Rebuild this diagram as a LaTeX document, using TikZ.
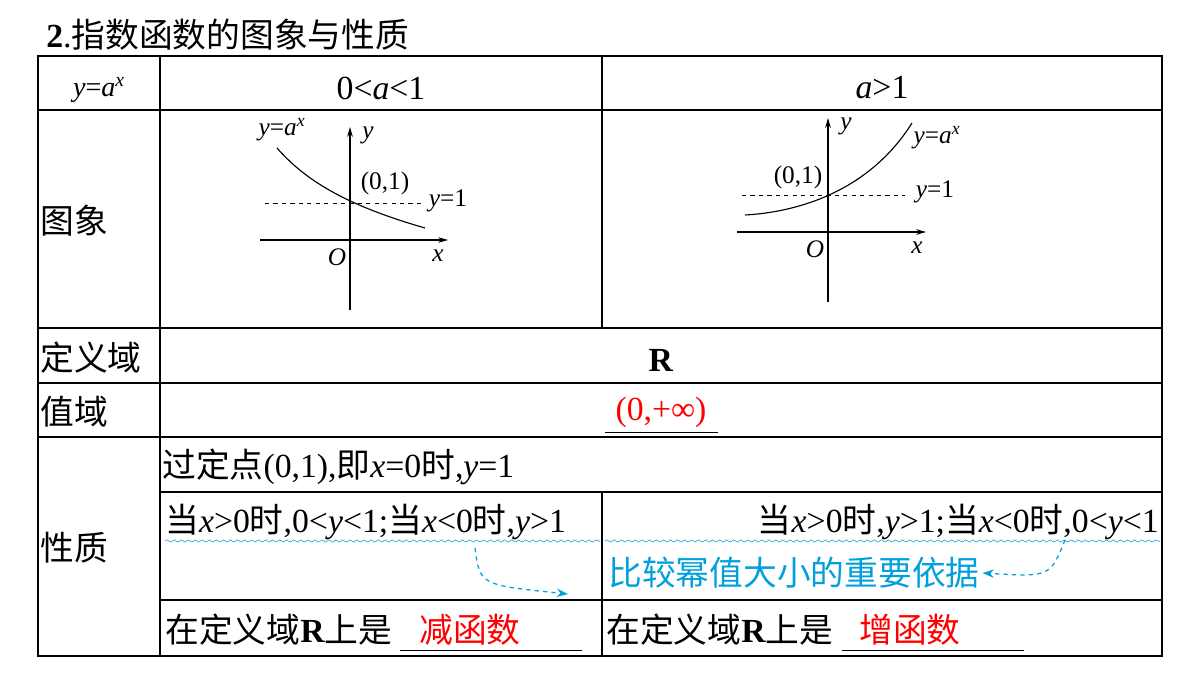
\documentclass[tikz,border=0pt]{standalone}
\usepackage{fontspec}
\setmainfont{Liberation Serif}
\newfontfamily\cjk{Noto Sans CJK SC}
\usetikzlibrary{arrows.meta,decorations.pathmorphing}
\definecolor{cy}{RGB}{0,160,220}
\begin{document}
\begin{tikzpicture}[x=0.025cm,y=-0.025cm,
  t/.style={font=\fontsize{24}{27}\selectfont,inner sep=0pt},
  s/.style={font=\fontsize{18}{20}\selectfont,inner sep=0pt},
  ax/.style={line width=0.8pt,-{Stealth[length=7pt,width=4pt]}},
  wav/.style={cy,decorate,decoration={snake,amplitude=0.8pt,segment length=5pt}},
  arr/.style={cy,dashed,line width=0.9pt,-{Stealth[length=8pt]}}]
\useasboundingbox (0,0) rectangle (1200,675);
\node[t,anchor=west,font=\fontsize{24}{27}\selectfont] (title) at (46,35) {\textbf{2}.\cjk 指数函数的图象与性质};
% table
\draw[line width=1.3pt] (38,56) rectangle (1162,656);
\draw[line width=0.8pt] (160,56)--(160,656) (602,56)--(602,328) (602,492)--(602,656)
 (38,110)--(1162,110) (38,328)--(1162,328) (38,383)--(1162,383) (38,437)--(1162,437)
 (160,492)--(1162,492) (160,600)--(1162,600);
\node[t,font=\fontsize{20}{22}\selectfont] (h0) at (99,90) {\textit{y}=\textit{a}\textsuperscript{\textit{x}}};
\node[t] (h1) at (381,88) {0<\textit{a}<1};
\node[t] (h2) at (882,88) {\textit{a}>1};
\node[t,anchor=west] (r1) at (40,221) {\cjk 图象};
\node[t,anchor=west] (r2) at (40,358) {\cjk 定义域};
\node[t,anchor=west] (r3) at (40,412) {\cjk 值域};
\node[t,anchor=west] (r4) at (40,548) {\cjk 性质};
\node[t] (R) at (661,360) {\textbf{R}};
\node[t,red] (rng) at (661,412) {(0,+∞)};
\draw (605,432)--(718,432);
\node[t,anchor=west] (p1) at (162,467) {\cjk 过定点\rmfamily(0,1),\cjk 即\rmfamily\textit{x}=0\cjk 时\rmfamily,\textit{y}=1};
\node[t,anchor=west] (p2) at (165,522) {\cjk 当\rmfamily\textit{x}>0\cjk 时\rmfamily,0<\textit{y}<1;\cjk 当\rmfamily\textit{x}<0\cjk 时\rmfamily,\textit{y}>1};
\node[t,anchor=east] (p3) at (1159,522) {\cjk 当\rmfamily\textit{x}>0\cjk 时\rmfamily,\textit{y}>1;\cjk 当\rmfamily\textit{x}<0\cjk 时\rmfamily,0<\textit{y}<1};
\draw[wav] (165,541)--(600,541);
\draw[wav] (605,541)--(1160,541);
\node[t,anchor=west,cy] (imp) at (608,573) {\cjk 比较幂值大小的重要依据};
\coordinate (a1) at (475,548); \coordinate (a2) at (568,594);
\draw[arr] (a1) .. controls (480,585) .. (a2);
\coordinate (b1) at (1065,540);
\draw[arr] (b1) .. controls (1050,577) .. ([xshift=2pt]imp.east);
\node[t,anchor=west] (d1) at (165,630) {\cjk 在定义域\rmfamily\textbf{R}\cjk 上是};
\node[t,red] (d1v) at (470,630) {\cjk 减函数};
\draw (400,650)--(582,650);
\node[t,anchor=west] (d2) at (606,630) {\cjk 在定义域\rmfamily\textbf{R}\cjk 上是};
\node[t,red] (d2v) at (910,630) {\cjk 增函数};
\draw (842,650)--(1024,650);
% graph 1
\coordinate (o1) at (350,240);
\draw[line width=0.8pt] (350,310)--(o1);
\draw[ax] (o1)--(350,127);
\draw[ax] (260,240)--(448,240);
\draw[dashed] (265,203)--(425,203);
\draw[line width=0.8pt] (277,148) .. controls (305,180) and (345,205) .. (425,228);
\node[s] (l1) at (282,130) {\textit{y}=\textit{a}\textsuperscript{\textit{x}}};
\node[s] (y1) at (368,135) {\textit{y}};
\node[s] (c1) at (385,183) {(0,1)};
\node[s] (e1) at (448,201) {\textit{y}=1};
\node[s] (O1) at (337,257) {\textit{O}};
\node[s] (x1) at (438,256) {\textit{x}};
% graph 2
\coordinate (o2) at (828,232);
\draw[line width=0.8pt] (828,302)--(o2);
\draw[ax] (o2)--(828,118);
\draw[ax] (737,232)--(926,232);
\draw[dashed] (742,195)--(905,195);
\draw[line width=0.8pt] (745,215) .. controls (800,212) and (870,190) .. (912,123);
\node[s] (l2) at (937,138) {\textit{y}=\textit{a}\textsuperscript{\textit{x}}};
\node[s] (y2) at (846,126) {\textit{y}};
\node[s] (c2) at (798,177) {(0,1)};
\node[s] (e2) at (935,192) {\textit{y}=1};
\node[s] (O2) at (815,249) {\textit{O}};
\node[s] (x2) at (917,248) {\textit{x}};
\end{tikzpicture}
\end{document}
